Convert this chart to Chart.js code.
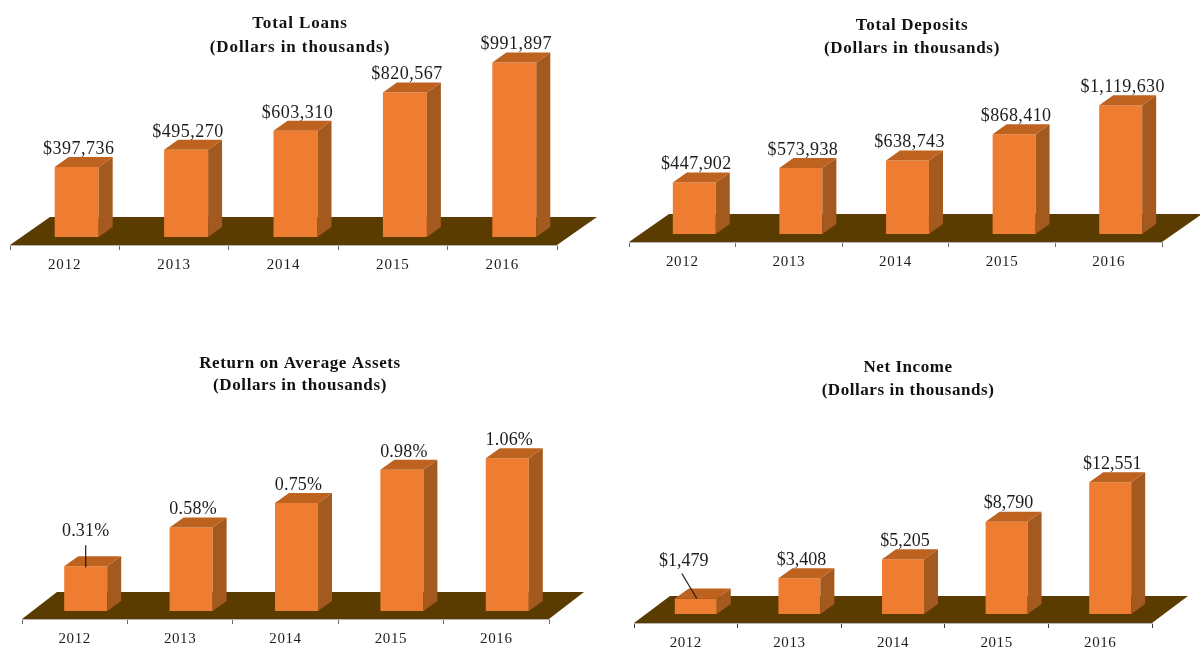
<!DOCTYPE html>
<html>
<head>
<meta charset="utf-8">
<title>Financial Highlights</title>
<script src="https://cdn.jsdelivr.net/npm/chart.js@4/dist/chart.umd.min.js"></script>
<style>
    html, body { margin: 0; padding: 0; width: 1200px; height: 652px; background: #fff; overflow: hidden; }
    canvas { position: absolute; }
</style>
</head>
<body>
<canvas id="loans"></canvas>
<canvas id="deposits"></canvas>
<canvas id="roa"></canvas>
<canvas id="income"></canvas>
<script>
const years = ["2012", "2013", "2014", "2015", "2016"];
const totalLoans = [397736, 495270, 603310, 820567, 991897];
const totalDeposits = [447902, 573938, 638743, 868410, 1119630];
const returnOnAssets = [0.31, 0.58, 0.75, 0.98, 1.06];
const netIncome = [1479, 3408, 5205, 8790, 12551];

const SERIF = '"Liberation Serif", "Times New Roman", serif';
const FRONT = "#ee7d31";
const SIDE = "#a4591f";
const TOP = "#bd621f";
const FLOOR = "#5a3b00";

const dollars = (v) => "$" + v.toLocaleString("en-US");
const percent = (v) => v.toFixed(2) + "%";

function fillPoly(ctx, color, pts) {
    ctx.fillStyle = color;
    ctx.beginPath();
    pts.forEach(([x, y], i) => (i ? ctx.lineTo(x, y) : ctx.moveTo(x, y)));
    ctx.closePath();
    ctx.fill();
}

// Fakes the old 3D column look: floor, bar sides and tops, value labels
const bars3d = {
    id: "bars3d",
    beforeDraw(chart, args, opts) {
        // padding keeps the axis in place, but the title stays centred on the whole canvas
        chart.titleBlock.left = 0;
        chart.titleBlock.right = chart.width;
        chart.ctx.letterSpacing = opts.textSpacing + "px";
    },
    beforeDatasetsDraw(chart, args, opts) {
        const { ctx, chartArea: a } = chart;
        fillPoly(ctx, FLOOR, [
            [a.left, a.bottom],
            [a.right, a.bottom],
            [a.right + opts.floorDx, a.bottom - opts.floorDy],
            [a.left + opts.floorDx, a.bottom - opts.floorDy],
        ]);
    },
    beforeDatasetDraw(chart, args, opts) {
        chart.ctx.save();
        chart.ctx.translate(opts.shift, 0);
    },
    afterDatasetDraw(chart, args, opts) {
        const ctx = chart.ctx;
        chart.getDatasetMeta(args.index).data.forEach((bar) => {
            const x0 = bar.x - bar.width / 2;
            const x1 = bar.x + bar.width / 2;
            const dx = opts.depthX;
            const dy = opts.depthY;
            fillPoly(ctx, SIDE, [[x1, bar.y], [x1 + dx, bar.y - dy], [x1 + dx, bar.base - dy], [x1, bar.base]]);
            fillPoly(ctx, TOP, [[x0, bar.y], [x1, bar.y], [x1 + dx, bar.y - dy], [x0 + dx, bar.y - dy]]);
        });
        ctx.restore();
    },
    afterDatasetsDraw(chart, args, opts) {
        const ctx = chart.ctx;
        const values = chart.data.datasets[0].data;
        ctx.save();
        ctx.font = "18px " + SERIF;
        ctx.letterSpacing = opts.labelSpacing + "px";
        ctx.fillStyle = "#1c1c1c";
        ctx.textAlign = "center";
        ctx.textBaseline = "middle";
        chart.getDatasetMeta(0).data.forEach((bar, i) => {
            const x = bar.x + opts.shift;
            const lift = opts.firstLabel && i === 0 ? opts.firstLabel : { dx: 2, dy: -18 };
            ctx.fillText(opts.format(values[i]), x + lift.dx, bar.y + lift.dy);
            if (lift.line) {
                ctx.strokeStyle = "#1c1c1c";
                ctx.lineWidth = 1.2;
                ctx.beginPath();
                ctx.moveTo(x + lift.line[0], bar.y + lift.line[1]);
                ctx.lineTo(x + lift.line[2], bar.y + lift.line[3]);
                ctx.stroke();
            }
        });
        ctx.restore();
    },
};

function makeChart(id, box, title, values, format, opts) {
    const canvas = document.getElementById(id);
    canvas.width = box.width;
    canvas.height = box.height;
    canvas.style.left = box.left + "px";
    canvas.style.top = box.top + "px";

    return new Chart(canvas, {
        type: "bar",
        data: {
            labels: years,
            datasets: [{
                data: values,
                backgroundColor: FRONT,
                borderWidth: 0,
                categoryPercentage: 1,
                barPercentage: opts.barPct,
                clip: false,
            }],
        },
        plugins: [bars3d],
        options: {
            responsive: false,
            animation: false,
            layout: { padding: { left: opts.padLeft, right: opts.padRight, top: 0, bottom: 0 } },
            scales: {
                x: {
                    afterFit: (scale) => { scale.height = 33; },
                    border: { color: "#b4b4b4", width: 1 },
                    grid: { drawOnChartArea: false, color: opts.tickColor, tickLength: 5 },
                    ticks: { color: "#1c1c1c", font: { family: SERIF, size: 15 }, padding: 6, maxRotation: 0 },
                },
                y: { display: false, min: opts.yMin, max: opts.yMax },
            },
            plugins: {
                legend: { display: false },
                tooltip: { enabled: false },
                title: {
                    display: true,
                    text: [title, "(Dollars in thousands)"],
                    color: "#111",
                    font: { family: SERIF, size: 17, weight: "bold", lineHeight: opts.titleLine / 17 },
                    padding: { top: opts.titleTop, bottom: opts.titleBottom },
                },
                bars3d: {
                    format,
                    shift: opts.shift,
                    depthX: 14,
                    depthY: 10,
                    floorDx: opts.floorDx,
                    floorDy: opts.floorDy,
                    textSpacing: opts.textSpacing,
                    labelSpacing: opts.labelSpacing,
                    firstLabel: opts.firstLabel,
                },
            },
        },
    });
}

makeChart("loans", { left: 0, top: 0, width: 600, height: 278 }, "Total Loans", totalLoans, dollars, {
    padLeft: 10, padRight: 43, titleTop: 12, titleLine: 24, titleBottom: 0, barPct: 0.402, shift: 12,
    floorDx: 40, floorDy: 28, yMin: -45455, yMax: 1005682,
    textSpacing: 0.9, labelSpacing: 0.5, tickColor: "#6e6e6e",
});
makeChart("deposits", { left: 623, top: 0, width: 578, height: 275 }, "Total Deposits", totalDeposits, dollars, {
    padLeft: 6, padRight: 39, titleTop: 14.5, titleLine: 23, titleBottom: 1.5, barPct: 0.403, shift: 12,
    floorDx: 40, floorDy: 28, yMin: -69565, yMax: 1495652,
    textSpacing: 0.7, labelSpacing: 0.4, tickColor: "#6e6e6e",
});
makeChart("roa", { left: 0, top: 340, width: 600, height: 312 }, "Return on Average Assets", returnOnAssets, percent, {
    padLeft: 22, padRight: 51, titleTop: 13, titleLine: 22, titleBottom: 3, barPct: 0.408, shift: 11,
    floorDx: 35, floorDy: 27, yMin: -0.0556, yMax: 1.465,
    textSpacing: 0.6, labelSpacing: 0.2, tickColor: "#6e6e6e",
    firstLabel: { dx: 0, dy: -35, line: [0, -21, 0, 1] },
});
makeChart("income", { left: 616, top: 344, width: 584, height: 312 }, "Net Income", netIncome, dollars, {
    padLeft: 18, padRight: 48, titleTop: 12.5, titleLine: 23, titleBottom: 1.5, barPct: 0.405, shift: 10,
    floorDx: 36, floorDy: 27, yMin: -857, yMax: 20000,
    textSpacing: 0.55, labelSpacing: 0, tickColor: "#3c3c3c",
    firstLabel: { dx: -12, dy: -37, line: [-14, -25, 1, 0] },
});
</script>
</body>
</html>
